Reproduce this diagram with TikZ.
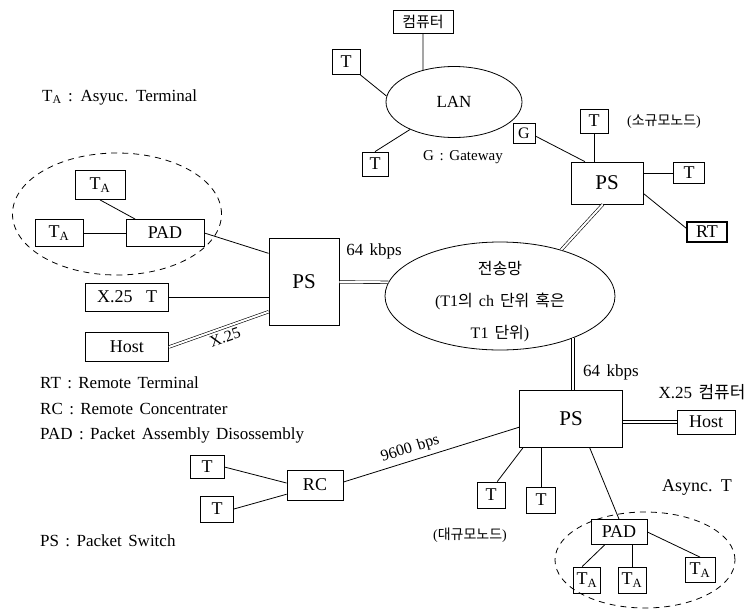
\documentclass[tikz,border=0pt]{standalone}
\usepackage{fontspec}
\setmainfont{Liberation Serif}[WordSpace=1.5]
\newfontfamily\krfont{Noto Sans CJK KR}
\usepackage{tikz}
\usetikzlibrary{positioning,shapes.geometric,calc}
\newcommand{\krtext}[1]{{\krfont #1}}
\newcommand{\tasync}{T\textsubscript{A}}
\tikzset{
  term/.style={rectangle,draw,line width=0.8pt,inner sep=1pt,
               font=\fontsize{18}{20}\selectfont},
  psw/.style={term,font=\fontsize{21}{24}\selectfont},
  cloud/.style={ellipse,draw,line width=0.8pt,inner sep=0pt},
  grp/.style={ellipse,draw,line width=0.8pt,dash pattern=on 6pt off 5pt,inner sep=0pt},
  link/.style={line width=0.8pt},
  trunk/.style={double,double distance=2pt,line width=0.6pt},
  note/.style={anchor=west,inner sep=0pt,font=\fontsize{17}{20}\selectfont},
  lbl/.style={inner sep=1pt,font=\fontsize{17}{20}\selectfont},
  linelbl/.style={lbl,inner sep=4pt,font=\fontsize{16}{18}\selectfont},
}

\begin{document}
\begin{tikzpicture}[x=1pt,y=-1pt,font=\fontsize{17}{20}\selectfont]
\useasboundingbox (0,0) rectangle (749,611);
\node[term,minimum width=60pt,minimum height=23pt,font=\fontsize{15}{18}\selectfont]
  (comp) at (423,22) {\krtext{컴퓨터}};
\node[term,minimum width=28pt,minimum height=25pt] (lant1) at (346,62) {T};
\node[cloud,minimum width=136pt,minimum height=71pt] (lan) at (454,102) {LAN};
\node[term,minimum width=26pt,minimum height=24pt] (lant2) at (375,164) {T};
\node[term,minimum width=22pt,minimum height=20pt,font=\fontsize{16}{18}\selectfont]
  (gw) at (524,133) {G};
\node[lbl,font=\fontsize{15}{18}\selectfont] (gwnote) at (463,157) {G : Gateway};
\node[term,minimum width=28pt,minimum height=24pt] (pst1) at (594,121) {T};
\node[lbl,font=\fontsize{14}{16}\selectfont] (smnote) at (664,122) {(\krtext{소규모노드})};
\node[psw,minimum width=72pt,minimum height=42pt] (psa) at (607,183) {PS};
\node[term,minimum width=31pt,minimum height=21pt] (pst2) at (689,173) {T};
\node[term,minimum width=40pt,minimum height=20pt,line width=1.2pt] (rt) at (707,232) {RT};

\node[note] (tnote) at (42,97) {\tasync\ : Asyuc. Terminal};
\node[grp,minimum width=209pt,minimum height=122pt] (grpa) at (117,214) {};
\node[term,minimum width=50pt,minimum height=29pt] (ta1) at (100,185) {\tasync};
\node[term,minimum width=48pt,minimum height=27pt] (ta2) at (59,233) {\tasync};
\node[term,minimum width=78pt,minimum height=27pt] (pada) at (165,233) {PAD};
\node[psw,minimum width=70pt,minimum height=87pt] (psl) at (304,282) {PS};
\node[term,minimum width=83pt,minimum height=28pt] (x25t) at (127,297) {X.25 \ T};
\node[term,minimum width=83pt,minimum height=29pt] (hosta) at (127,347) {Host};
\node[lbl] (rate1) at (374,251) {64 kbps};
\node[cloud,minimum width=230pt,minimum height=108pt] (tnet) at (500,296) {};
\node[align=center,font=\fontsize{16}{32}\selectfont] (tnetlbl) at (500,302)
  {\krtext{전송망}\\(T1\krtext{의} ch \krtext{단위} \krtext{혹은}\\T1 \krtext{단위})};

\node[note] (rtnote) at (40,383) {RT : Remote Terminal};
\node[note] (rcnote) at (40,409) {RC : Remote Concentrater};
\node[note] (padnote) at (40,435) {PAD : Packet Assembly Disossembly};
\node[note] (psnote) at (40,541) {PS : Packet Switch};

\node[psw,minimum width=103pt,minimum height=57pt] (psb) at (571,419) {PS};
\node[lbl,anchor=west] (rate2) at (582,372) {64 kbps};
\node[lbl] (x25note) at (702,392) {X.25 \krtext{컴퓨터}};
\node[term,minimum width=58pt,minimum height=24pt] (hostb) at (706,422) {Host};
\node[term,minimum width=56pt,minimum height=30pt] (rc) at (315,485) {RC};
\node[term,minimum width=34pt,minimum height=23pt] (tb1) at (207,467) {T};
\node[term,minimum width=33pt,minimum height=26pt] (tb2) at (217,509) {T};
\node[term,minimum width=28pt,minimum height=26pt] (tbig1) at (491,495) {T};
\node[term,minimum width=29pt,minimum height=26pt] (tbig2) at (541,500) {T};
\node[lbl,font=\fontsize{14}{16}\selectfont] (bignote) at (470,535) {(\krtext{대규모노드})};
\node[lbl,font=\fontsize{18}{20}\selectfont] (asyncnote) at (697,487) {Async. T};
\node[grp,minimum width=180pt,minimum height=96pt] (grpb) at (645,560) {};
\node[term,minimum width=56pt,minimum height=25pt] (padb) at (619,532) {PAD};
\node[term,minimum width=27pt,minimum height=26pt] (tx1) at (587,580) {\tasync};
\node[term,minimum width=28pt,minimum height=26pt] (tx2) at (632,580) {\tasync};
\node[term,minimum width=30pt,minimum height=25pt] (tx3) at (700,570) {\tasync};

\draw[link] (comp.south) -- (lan.134); \draw[link] (lant1.south east) -- (lan.175);
\draw[link] (lant2.north) -- (lan.212); \draw[link] (gw.-15) -- (psa.136);
\draw[link] (pst1.south) -- (pst1.south |- psa.north);
\draw[link] (psa.east |- pst2) -- (pst2.west); \draw[link] (psa.-16) -- (rt.170);
\draw[trunk] (psa.-101) -- (tnet.37);
\draw[link] (ta1.south) -- (pada.155); \draw[link] (ta2.east) -- (pada.west);
\draw[link] (pada.east) -- (psl.141);
\draw[link] (x25t.east) -- (x25t.east -| psl.west);
\draw[trunk] (hosta.east) -- node[linelbl,sloped,below,pos=0.53] {X.25} (psl.220);
\draw[trunk] (psl.east) -- (tnet.173);
\draw[trunk] (tnet.-30) -- (tnet.-30 |- psb.north);
\draw[trunk] (psb.east |- hostb) -- (hostb.west);
\draw[link] (tb1.east) -- (rc.176); \draw[link] (tb2.east) -- (rc.198);
\draw[link] (rc.6) -- node[linelbl,sloped,above,pos=0.4] {9600 bps} (psb.189);
\draw[link] (psb.211) -- (tbig1.65); \draw[link] (tbig2 |- psb.south) -- (tbig2.north);
\draw[link] (psb.-57) -- (padb.north);
\draw[link] (padb.222) -- (tx1.110); \draw[link] (tx2 |- padb.south) -- (tx2.north);
\draw[link] (padb.east) -- (tx3.north);
\end{tikzpicture}
\end{document}
